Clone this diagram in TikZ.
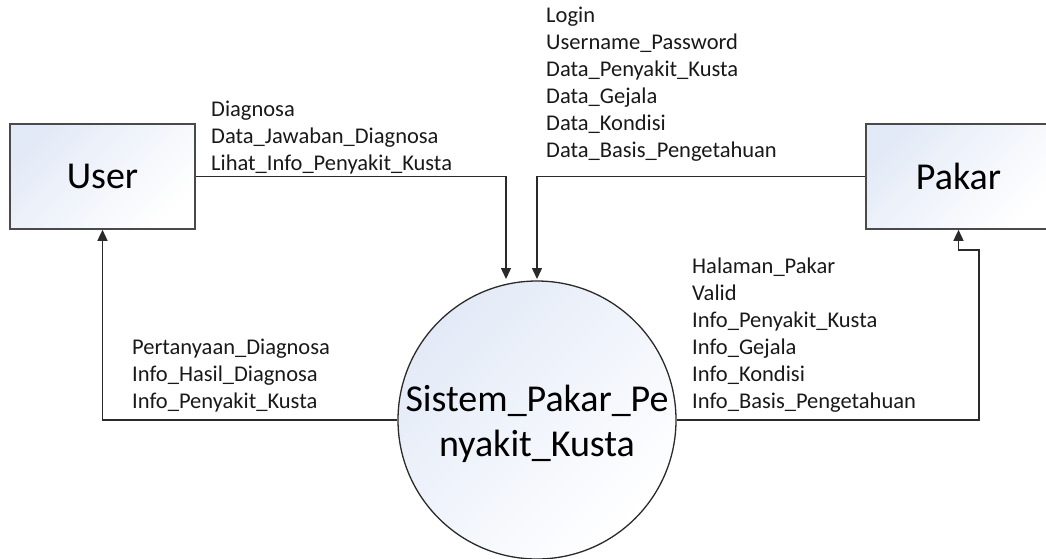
\documentclass[tikz,border=0pt]{standalone}
\usepackage{fontspec}
\setmainfont{Carlito}
\usetikzlibrary{arrows.meta,calc}
\definecolor{edgegray}{HTML}{4A4A4A}
\definecolor{flowgray}{HTML}{2A2A2A}
\definecolor{paleblue}{HTML}{E3EAF7}
\begin{document}
\begin{tikzpicture}[x=1pt,y=-1pt,
  entity/.style={draw=edgegray, line width=1.6pt, rectangle,
    minimum width=185pt, minimum height=105pt, inner sep=0pt,
    top color=paleblue, bottom color=white, shading angle=45,
    font=\fontsize{38}{44}\selectfont},
  process/.style={draw=flowgray, line width=1.3pt, circle,
    minimum size=278pt, inner sep=0pt,
    top color=paleblue, bottom color=white, shading angle=45,
    align=center, font=\fontsize{38}{45}\selectfont},
  flow/.style={draw=flowgray, line width=1.4pt,
    -{Triangle[width=10pt,length=11pt]}},
  lbl/.style={anchor=base west, align=left, inner sep=0pt,
    font=\fontsize{22.5}{27}\selectfont, text=black!90}]

\useasboundingbox (0,0) rectangle (1046,558);

% external entities and the process
\node[entity] (user)  at (102.5,176.5) {User};
\node[entity] (pakar) at (958.5,176.5) {Pakar};
\node[process] (sys) at (537,420) {};
\node[align=center, font=\fontsize{38}{45}\selectfont, inner sep=0pt]
  (systext) at (537,424) {Sistem\_Pakar\_Pe\\nyakit\_Kusta};

% connector end points
\coordinate (userin) at (506,279);
\coordinate (pakarin) at (537,279);
\coordinate (rcorner) at (979,420);
\coordinate (rstep) at (979,250);

% data flows
\draw[flow] (user.east) -| (userin);
\draw[flow] (pakar.west) -| (pakarin);
\draw[flow] (sys.west) -| (user.south);
\draw[flow] (sys.east) -- (rcorner) -- (rstep) -| (pakar.south);

% flow labels (anchored at the baseline of their last line)
\node[lbl] (lblUserIn) at (211,170) {Diagnosa\\Data\_Jawaban\_Diagnosa\\Lihat\_Info\_Penyakit\_Kusta};
\node[lbl] (lblPakarIn) at (546,157) {Login\\Username\_Password\\Data\_Penyakit\_Kusta\\Data\_Gejala\\Data\_Kondisi\\Data\_Basis\_Pengetahuan};
\node[lbl] (lblPakarOut) at (692,408) {Halaman\_Pakar\\Valid\\Info\_Penyakit\_Kusta\\Info\_Gejala\\Info\_Kondisi\\Info\_Basis\_Pengetahuan};
\node[lbl] (lblUserOut) at (132,408) {Pertanyaan\_Diagnosa\\Info\_Hasil\_Diagnosa\\Info\_Penyakit\_Kusta};
\end{tikzpicture}
\end{document}
